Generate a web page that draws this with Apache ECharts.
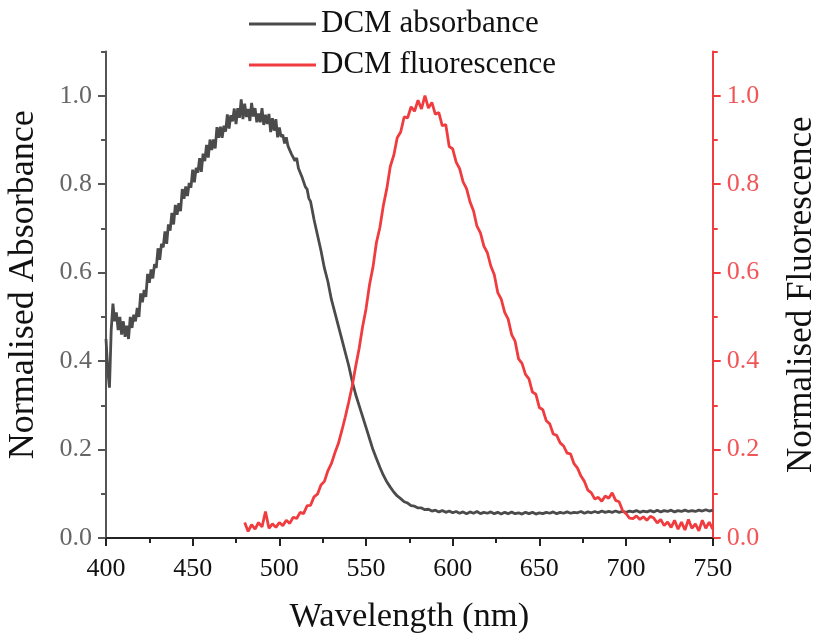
<!DOCTYPE html>
<html>
<head>
<meta charset="utf-8">
<script src="https://cdn.jsdelivr.net/npm/echarts@6/dist/echarts.min.js"></script>
<style>
html,body{margin:0;padding:0;background:#fff;}
#chart{width:814px;height:637px;}
</style>
</head>
<body>
<div id="chart"></div>
<script>
// ---- data ----
// absorbance, 400-519 nm every 1 nm
const absStartA = 400, absStepA = 1;
const absorbanceA = [
0.45,0.38,0.34,0.47,0.53,0.49,0.51,0.47,0.50,0.46,
0.49,0.455,0.48,0.45,0.50,0.475,0.505,0.49,0.52,0.50,
0.553,0.533,0.561,0.545,0.597,0.577,0.607,0.587,0.619,0.611,
0.655,0.629,0.665,0.657,0.693,0.665,0.709,0.695,0.735,0.709,
0.753,0.731,0.757,0.739,0.789,0.767,0.795,0.773,0.803,0.792,
0.833,0.804,0.837,0.826,0.859,0.828,0.869,0.852,0.889,0.860,
0.901,0.877,0.901,0.881,0.929,0.905,0.930,0.905,0.932,0.919,
0.958,0.926,0.956,0.942,0.971,0.936,0.972,0.950,0.992,0.947,
0.982,0.952,0.970,0.943,0.984,0.953,0.972,0.940,0.960,0.940,
0.972,0.934,0.957,0.936,0.959,0.918,0.949,0.921,0.947,0.906,
0.928,0.907,0.912,0.892,0.906,0.886,0.889,0.868,0.870,0.853,
0.859,0.836,0.836,0.817,0.816,0.794,0.789,0.768,0.761,0.741
];
// absorbance, 520-750 nm every 2 nm
const absStartB = 520, absStepB = 2;
const absorbanceB = [
0.72,0.685,0.65,0.61,0.58,0.54,0.51,0.48,0.45,0.42,
0.39,0.355,0.325,0.30,0.275,0.25,0.225,0.20,0.18,0.16,
0.142,0.127,0.115,0.104,0.095,0.089,0.082,0.079,0.073,0.072,
0.068,0.068,0.064,0.065,0.061,0.063,0.059,0.062,0.058,0.061,
0.057,0.060,0.056,0.059,0.055,0.059,0.056,0.060,0.055,0.058,
0.056,0.059,0.055,0.058,0.054,0.058,0.055,0.059,0.055,0.057,
0.054,0.058,0.055,0.058,0.054,0.057,0.055,0.058,0.056,0.059,
0.055,0.058,0.056,0.059,0.056,0.058,0.057,0.060,0.056,0.059,
0.057,0.060,0.057,0.061,0.058,0.060,0.058,0.061,0.058,0.060,
0.058,0.061,0.059,0.062,0.058,0.061,0.059,0.062,0.059,0.063,
0.059,0.062,0.060,0.063,0.059,0.062,0.060,0.063,0.060,0.062,
0.060,0.063,0.061,0.064,0.061,0.063
];
// fluorescence, 480-750 nm every 2 nm
const fluStart = 480, fluStep = 2;
const fluorescence = [
0.035,0.015,0.030,0.020,0.035,0.025,0.060,0.022,0.032,0.024,
0.035,0.028,0.040,0.033,0.047,0.044,0.058,0.055,0.073,0.074,
0.093,0.099,0.120,0.128,0.152,0.168,0.192,0.213,0.242,0.273,
0.307,0.343,0.387,0.428,0.477,0.518,0.572,0.612,0.668,0.702,
0.752,0.790,0.840,0.865,0.905,0.918,0.952,0.950,0.975,0.965,
0.990,0.970,1.000,0.972,0.985,0.958,0.962,0.932,0.935,0.885,
0.880,0.850,0.835,0.805,0.790,0.760,0.740,0.705,0.690,0.660,
0.645,0.615,0.595,0.555,0.540,0.510,0.495,0.460,0.445,0.405,
0.395,0.370,0.360,0.330,0.325,0.295,0.290,0.265,0.258,0.235,
0.232,0.215,0.208,0.192,0.190,0.168,0.158,0.140,0.128,0.108,
0.102,0.088,0.092,0.083,0.095,0.090,0.102,0.085,0.082,0.062,
0.055,0.045,0.044,0.050,0.042,0.048,0.040,0.049,0.045,0.034,
0.042,0.028,0.036,0.024,0.040,0.020,0.036,0.018,0.042,0.022,
0.032,0.016,0.040,0.022,0.036,0.020
];
const seriesNames = ['DCM absorbance', 'DCM fluorescence'];
const xTitle = 'Wavelength (nm)';
const yLeftTitle = 'Normalised Absorbance';
const yRightTitle = 'Normalised Fluorescence';

// ---- build ----
const absData = absorbanceA.map((v, i) => [absStartA + i * absStepA, v])
  .concat(absorbanceB.map((v, i) => [absStartB + i * absStepB, v]));
const fluData = fluorescence.map((v, i) => [fluStart + i * fluStep, v]);

const FONT = "'Liberation Serif','Times New Roman',serif";
const GREY = '#555555';
const RED = '#f03c3f';
const ABS_COLOR = '#4b4b4b';
const PLOT_TOP = 51.5, PLOT_BOTTOM = 99, PLOT_LEFT = 106, PLOT_RIGHT = 101.3;
const PLOT_H = 637 - PLOT_TOP - PLOT_BOTTOM;
const TOP_MAJOR = PLOT_TOP + PLOT_H * (0.1 / 1.1);

const chart = echarts.init(document.getElementById('chart'), null, {renderer: 'canvas'});
const fmt = v => v.toFixed(1);

chart.setOption({
  animation: false,
  backgroundColor: '#fff',
  textStyle: {fontFamily: FONT},
  legend: {
    left: 244, top: 1, orient: 'vertical',
    itemWidth: 67, itemHeight: 3, itemGap: 5, icon: 'rect',
    textStyle: {fontFamily: FONT, fontSize: 31, color: '#111', lineHeight: 36},
    data: seriesNames
  },
  grid: [
    {left: PLOT_LEFT, right: PLOT_RIGHT, top: PLOT_TOP, bottom: PLOT_BOTTOM, containLabel: false, outerBoundsMode: 'none'},
    {left: PLOT_LEFT, right: PLOT_RIGHT, top: TOP_MAJOR, bottom: PLOT_BOTTOM, containLabel: false, outerBoundsMode: 'none'}
  ],
  xAxis: [
    {
      type: 'value', gridIndex: 0, min: 400, max: 750, interval: 50,
      name: xTitle, nameLocation: 'middle', nameGap: 61,
      nameTextStyle: {fontFamily: FONT, fontSize: 34.5, color: '#111'},
      axisLine: {show: true, lineStyle: {color: '#222', width: 2}},
      axisTick: {show: true, inside: false, length: 8, lineStyle: {color: '#222', width: 2}},
      minorTick: {show: true, splitNumber: 2, length: 5, lineStyle: {color: '#222', width: 2}},
      axisLabel: {fontFamily: FONT, fontSize: 26, color: '#111', margin: 18},
      splitLine: {show: false}
    },
    {type: 'value', gridIndex: 1, min: 400, max: 750, show: false}
  ],
  yAxis: [
    {
      type: 'value', gridIndex: 0, position: 'left', min: 0, max: 1.1, interval: 0.1,
      name: yLeftTitle, nameLocation: 'middle', nameGap: 64,
      nameTextStyle: {fontFamily: FONT, fontSize: 36, color: '#111', padding: [0, 0, 0, 20]},
      axisLine: {show: true, lineStyle: {color: GREY, width: 2}},
      axisTick: {show: true, inside: false, length: 5, lineStyle: {color: GREY, width: 2}},
      axisLabel: {show: false},
      splitLine: {show: false}
    },
    {
      type: 'value', gridIndex: 0, position: 'right', min: 0, max: 1.1, interval: 0.1,
      name: yRightTitle, nameLocation: 'middle', nameGap: 72,
      nameTextStyle: {fontFamily: FONT, fontSize: 35, color: '#111'},
      axisLine: {show: true, lineStyle: {color: RED, width: 2}},
      axisTick: {show: true, inside: false, length: 5, lineStyle: {color: RED, width: 2}},
      axisLabel: {show: false},
      splitLine: {show: false}
    },
    {
      type: 'value', gridIndex: 1, position: 'left', min: 0, max: 1.0, interval: 0.2,
      axisLine: {show: false},
      axisTick: {show: true, inside: false, length: 8, lineStyle: {color: GREY, width: 2}},
      axisLabel: {fontFamily: FONT, fontSize: 26, color: '#666', margin: 14, formatter: fmt},
      splitLine: {show: false}
    },
    {
      type: 'value', gridIndex: 1, position: 'right', min: 0, max: 1.0, interval: 0.2,
      axisLine: {show: false},
      axisTick: {show: true, inside: false, length: 8, lineStyle: {color: RED, width: 2}},
      axisLabel: {fontFamily: FONT, fontSize: 26, color: '#f25558', margin: 14, formatter: fmt},
      splitLine: {show: false}
    }
  ],
  series: [
    {
      name: seriesNames[0], type: 'line', xAxisIndex: 0, yAxisIndex: 0,
      data: absData, symbol: 'none', showSymbol: false,
      lineStyle: {color: ABS_COLOR, width: 2.8}, itemStyle: {color: ABS_COLOR}, z: 2
    },
    {
      name: seriesNames[1], type: 'line', xAxisIndex: 0, yAxisIndex: 1,
      data: fluData, symbol: 'none', showSymbol: false,
      lineStyle: {color: RED, width: 2.8}, itemStyle: {color: RED}, z: 3
    }
  ]
});
</script>
</body>
</html>
